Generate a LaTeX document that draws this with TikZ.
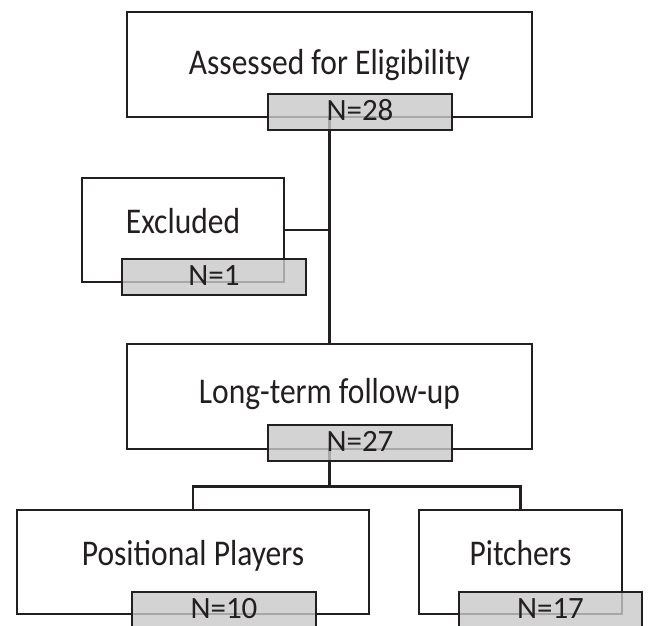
\documentclass[tikz,border=0pt]{standalone}
\usepackage{fontspec}
\setmainfont{Carlito}
\usetikzlibrary{calc}
\definecolor{ink}{HTML}{231F20}
\definecolor{nfill}{RGB}{201,201,201}
\newcommand{\tallt}[1]{\scalebox{1}[1.15]{#1}}
\tikzset{
  bigbox/.style={draw=ink, line width=2.7pt, rectangle, inner sep=0pt, fill=white},
  nbox/.style={draw=ink, line width=2.7pt, rectangle, inner sep=0pt,
    minimum height=36pt, fill=nfill, fill opacity=0.8, draw opacity=1, text opacity=1,
    text=ink, font=\fontsize{31}{36}\selectfont, text height=20pt, text depth=4pt},
  lbl/.style={anchor=base, inner sep=0pt, text=ink, font=\fontsize{31.5}{36}\selectfont},
  conn/.style={draw=ink, line width=2.7pt, line join=miter}
}
\begin{document}
\begin{tikzpicture}[x=1pt,y=-1pt]
\useasboundingbox (0,0) rectangle (649,625);
% main boxes
\node[bigbox, minimum width=405pt, minimum height=105pt] (A) at (329.5,64.5) {};
\node[bigbox, minimum width=202pt, minimum height=104pt] (E) at (183,230) {};
\node[bigbox, minimum width=405pt, minimum height=105pt] (L) at (329.5,396.5) {};
\node[bigbox, minimum width=352pt, minimum height=104pt] (P) at (193,562) {};
\node[bigbox, minimum width=203pt, minimum height=104pt] (Q) at (520.5,562) {};
% connectors
\draw[conn] (A.south) -- (L.north);
\draw[conn] (E.east) -- (E.east -| A.south);
\draw[conn] (L.south) -- ++(0,36) coordinate (br);
\draw[conn] (P.north) |- (br) -| (Q.north);
% count boxes
\node[nbox, minimum width=184pt] (nA) at (360,112) {N=28};
\node[nbox, minimum width=184pt] (nE) at (214,277) {N=1};
\node[nbox, minimum width=184pt] (nL) at (360,443) {N=27};
\node[nbox, minimum width=184pt] (nP) at (224,610) {N=10};
\node[nbox, minimum width=183pt] (nQ) at (550.5,610) {N=17};
% labels
\node[lbl] (tA) at (329.5,74) {\tallt{Assessed for Eligibility}};
\node[lbl] (tE) at (183,233) {\tallt{Excluded}};
\node[lbl] (tL) at (329.5,403) {\tallt{Long-term follow-up}};
\node[lbl] (tP) at (193,565) {\tallt{Positional Players}};
\node[lbl] (tQ) at (520.5,565) {\tallt{Pitchers}};
\end{tikzpicture}
\end{document}
